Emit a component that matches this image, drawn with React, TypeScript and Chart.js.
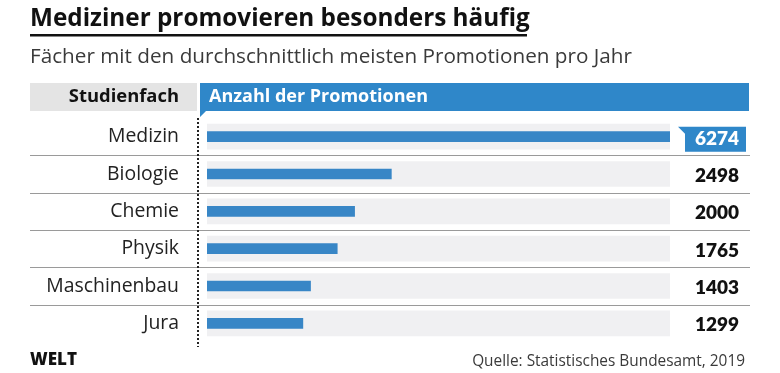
import React, { useEffect, useRef } from "react";
import { Chart, registerables } from "chart.js";

Chart.register(...registerables);

const title = "Mediziner promovieren besonders häufig";
const subtitle = "Fächer mit den durchschnittlich meisten Promotionen pro Jahr";
const headerLeft = "Studienfach";
const headerRight = "Anzahl der Promotionen";
const categories = ["Medizin", "Biologie", "Chemie", "Physik", "Maschinenbau", "Jura"];
const values = [6274, 2498, 2000, 1765, 1403, 1299];
const highlightIndex = 0;
const source = "Quelle: Statistisches Bundesamt, 2019";
const brand = "WELT";

const W = 780;
const H = 373;
const FONT = "'Open Sans', Lato, 'DejaVu Sans', sans-serif";
const NUM_FONT = "Lato, 'Open Sans', sans-serif";
const BLUE = "#2f87c9";
const BAR_BLUE = "#3886c6";
const TRACK = "#f0f0f2";

const maxValue = Math.max(...values);

const decorPlugin = {
  id: "decor",
  beforeDatasetsDraw(chart: any) {
    const ctx = chart.ctx as CanvasRenderingContext2D;
    const y = chart.scales.y;
    ctx.save();

    // Title
    ctx.fillStyle = "#111";
    ctx.textAlign = "left";
    ctx.textBaseline = "alphabetic";
    ctx.font = `700 24.3px ${FONT}`;
    ctx.fillText(title, 30, 26);
    ctx.fillRect(30, 34, 497, 2.5);

    // Subtitle
    ctx.fillStyle = "#3a3a3a";
    ctx.font = `400 20.7px ${FONT}`;
    ctx.fillText(subtitle, 30, 63);

    // Header left (grey)
    ctx.fillStyle = "#e4e4e4";
    ctx.fillRect(30, 83, 167, 28);
    ctx.fillStyle = "#111";
    ctx.font = `700 18.4px ${FONT}`;
    ctx.textAlign = "right";
    ctx.textBaseline = "middle";
    ctx.fillText(headerLeft, 179, 97);

    // Header right (blue tab)
    ctx.fillStyle = BLUE;
    ctx.beginPath();
    ctx.moveTo(200, 83);
    ctx.lineTo(749, 83);
    ctx.lineTo(749, 111);
    ctx.lineTo(206, 111);
    ctx.lineTo(200, 117);
    ctx.closePath();
    ctx.fill();
    ctx.fillStyle = "#ffffff";
    ctx.textAlign = "left";
    ctx.font = `700 18px ${FONT}`;
    ctx.fillText(headerRight, 209, 97);

    // Row separators
    ctx.strokeStyle = "#9a9a9a";
    ctx.lineWidth = 1;
    for (let i = 0; i < categories.length - 1; i++) {
      const yy = Math.round((y.getPixelForValue(i) + y.getPixelForValue(i + 1)) / 2) + 0.5;
      ctx.beginPath();
      ctx.moveTo(30, yy);
      ctx.lineTo(750, yy);
      ctx.stroke();
    }

    // Dotted vertical line
    ctx.strokeStyle = "#222";
    ctx.lineWidth = 2;
    ctx.setLineDash([2, 2]);
    ctx.beginPath();
    ctx.moveTo(198, 118);
    ctx.lineTo(198, 347);
    ctx.stroke();
    ctx.setLineDash([]);

    ctx.restore();
  },
  afterDatasetsDraw(chart: any) {
    const ctx = chart.ctx as CanvasRenderingContext2D;
    const y = chart.scales.y;
    ctx.save();
    ctx.textBaseline = "middle";

    categories.forEach((c, i) => {
      const py = y.getPixelForValue(i);
      ctx.fillStyle = "#222";
      ctx.font = `400 19.4px ${FONT}`;
      ctx.textAlign = "right";
      ctx.fillText(c, 179, py);

      const label = String(values[i]);
      ctx.font = `800 19px ${NUM_FONT}`;
      if (i === highlightIndex) {
        ctx.fillStyle = BLUE;
        ctx.beginPath();
        ctx.moveTo(678, py - 10);
        ctx.lineTo(746, py - 10);
        ctx.lineTo(746, py + 15);
        ctx.lineTo(685, py + 15);
        ctx.lineTo(685, py - 3);
        ctx.closePath();
        ctx.fill();
        ctx.fillStyle = "#ffffff";
      } else {
        ctx.fillStyle = "#111";
      }
      ctx.fillText(label, 739, py + 2);
    });

    // Footer
    ctx.textBaseline = "alphabetic";
    ctx.textAlign = "left";
    ctx.fillStyle = "#111";
    ctx.font = `800 17px ${FONT}`;
    ctx.fillText(brand, 30, 365);

    ctx.textAlign = "right";
    ctx.fillStyle = "#3a3a3a";
    ctx.font = `400 15.4px ${FONT}`;
    ctx.fillText(source, 745, 366);

    ctx.restore();
  },
};

export default function App() {
  const ref = useRef<HTMLCanvasElement | null>(null);

  useEffect(() => {
    if (!ref.current) return;
    const chart = new Chart(ref.current, {
      type: "bar",
      data: {
        labels: categories,
        datasets: [
          {
            data: values,
            backgroundColor: BAR_BLUE,
            barThickness: 10,
            grouped: false,
            order: 0,
          } as any,
          {
            data: values.map(() => maxValue),
            backgroundColor: TRACK,
            barThickness: 25,
            grouped: false,
            order: 1,
          } as any,
        ],
      },
      options: {
        indexAxis: "y",
        responsive: false,
        animation: false,
        layout: { padding: { left: 207, right: 110, top: 118, bottom: 31 } },
        scales: {
          x: { display: false, min: 0, max: maxValue },
          y: { display: false, offset: true },
        },
        plugins: {
          legend: { display: false },
          tooltip: { enabled: false },
          title: { display: false },
        },
      },
      plugins: [decorPlugin],
    });
    return () => chart.destroy();
  }, []);

  return (
    <div style={{ position: "fixed", left: 0, top: 0, width: W, height: H, background: "#fff" }}>
      <canvas ref={ref} width={W} height={H} style={{ width: W, height: H, display: "block" }} />
    </div>
  );
}
